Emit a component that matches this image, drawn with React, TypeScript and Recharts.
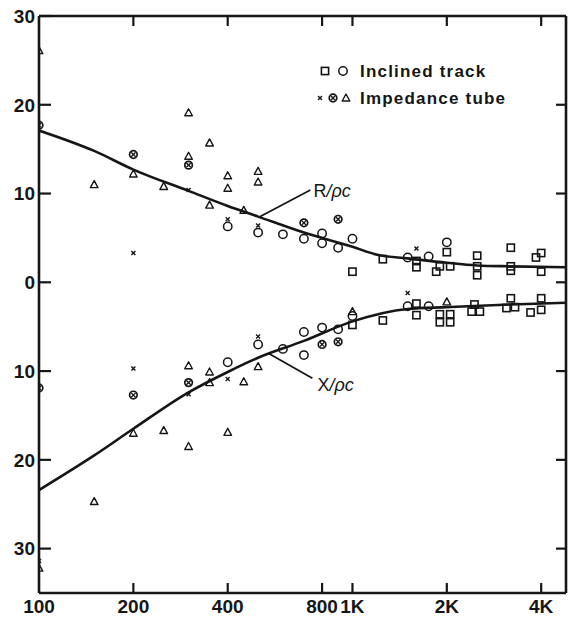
import React from 'react';
import {
  ComposedChart,
  Line,
  Scatter,
  XAxis,
  YAxis,
  Legend,
  ReferenceLine,
  ReferenceDot,
} from 'recharts';

// ---- axes -------------------------------------------------------------
const freqTicks = [100, 200, 400, 800, 1000, 2000, 4000];
const freqTickLabels = ['100', '200', '400', '800', '1K', '2K', '4K'];
const levelTicks = [30, 20, 10, 0, -10, -20, -30];
const freqDomain = [100, 4800];
const levelDomain = [-35, 30];

// ---- fitted curves (R/ρc above zero, X/ρc drawn below zero) -------------
const rCurve = [
  { f: 100, v: 17.1 },
  { f: 150, v: 14.8 },
  { f: 200, v: 12.7 },
  { f: 300, v: 10.3 },
  { f: 400, v: 8.6 },
  { f: 500, v: 7.4 },
  { f: 700, v: 5.6 },
  { f: 1000, v: 4.0 },
  { f: 1200, v: 3.1 },
  { f: 1500, v: 2.7 },
  { f: 2000, v: 2.2 },
  { f: 2500, v: 1.9 },
  { f: 3200, v: 1.8 },
  { f: 4800, v: 1.7 },
];

const xCurve = [
  { f: 100, v: -23.4 },
  { f: 150, v: -19.5 },
  { f: 200, v: -16.5 },
  { f: 300, v: -12.4 },
  { f: 400, v: -10.1 },
  { f: 500, v: -8.5 },
  { f: 700, v: -6.6 },
  { f: 1000, v: -4.4 },
  { f: 1500, v: -3.0 },
  { f: 2000, v: -2.8 },
  { f: 3200, v: -2.5 },
  { f: 4800, v: -2.3 },
];

// ---- inclined track measurements ----------------------------------------
const trackSquares = [
  { f: 1000, v: 1.2 }, { f: 1250, v: 2.6 }, { f: 1600, v: 2.4 }, { f: 1600, v: 1.7 },
  { f: 1850, v: 1.2 }, { f: 1900, v: 1.8 }, { f: 2000, v: 3.4 }, { f: 2050, v: 1.8 },
  { f: 2500, v: 3.0 }, { f: 2500, v: 1.8 }, { f: 2500, v: 0.8 }, { f: 3200, v: 3.9 },
  { f: 3200, v: 1.8 }, { f: 3200, v: 1.3 }, { f: 3850, v: 2.8 }, { f: 4000, v: 3.3 },
  { f: 4000, v: 1.2 },
  { f: 1000, v: -4.8 }, { f: 1250, v: -4.3 }, { f: 1600, v: -2.4 }, { f: 1600, v: -3.7 },
  { f: 1900, v: -3.6 }, { f: 2050, v: -3.6 }, { f: 1900, v: -4.5 }, { f: 2050, v: -4.5 },
  { f: 2400, v: -3.3 }, { f: 2550, v: -3.3 }, { f: 2450, v: -2.5 }, { f: 3200, v: -1.8 },
  { f: 3100, v: -2.9 }, { f: 3300, v: -2.8 }, { f: 4000, v: -1.8 }, { f: 3700, v: -3.4 },
  { f: 4000, v: -3.1 },
];

const trackCircles = [
  { f: 400, v: 6.3 }, { f: 500, v: 5.6 }, { f: 600, v: 5.4 }, { f: 700, v: 4.9 },
  { f: 800, v: 5.5 }, { f: 800, v: 4.4 }, { f: 900, v: 3.9 }, { f: 1000, v: 4.9 },
  { f: 1500, v: 2.8 }, { f: 1750, v: 2.9 }, { f: 2000, v: 4.5 },
  { f: 400, v: -9.0 }, { f: 500, v: -7.0 }, { f: 600, v: -7.5 }, { f: 700, v: -8.2 },
  { f: 700, v: -5.6 }, { f: 800, v: -5.1 }, { f: 900, v: -5.3 }, { f: 1000, v: -3.8 },
  { f: 1500, v: -2.7 }, { f: 1750, v: -2.7 },
];

// ---- impedance tube measurements ----------------------------------------
const tubeCrosses = [
  { f: 200, v: 3.3 }, { f: 300, v: 10.4 }, { f: 400, v: 7.1 }, { f: 500, v: 6.4 },
  { f: 1600, v: 3.8 },
  { f: 100, v: -31.4 }, { f: 200, v: -9.7 }, { f: 300, v: -12.6 }, { f: 400, v: -10.9 },
  { f: 500, v: -6.1 }, { f: 1500, v: -1.2 },
];

const tubeCircledCrosses = [
  { f: 100, v: 17.7 }, { f: 200, v: 14.4 }, { f: 300, v: 13.2 }, { f: 700, v: 6.7 },
  { f: 900, v: 7.1 },
  { f: 100, v: -11.9 }, { f: 200, v: -12.7 }, { f: 300, v: -11.3 }, { f: 800, v: -7.0 },
  { f: 900, v: -6.7 },
];

const tubeTriangles = [
  { f: 100, v: 26.1 }, { f: 150, v: 11.0 }, { f: 200, v: 12.2 }, { f: 250, v: 10.8 },
  { f: 300, v: 19.1 }, { f: 300, v: 14.2 }, { f: 350, v: 15.7 }, { f: 350, v: 8.7 },
  { f: 400, v: 12.0 }, { f: 400, v: 10.6 }, { f: 450, v: 8.1 }, { f: 500, v: 12.5 },
  { f: 500, v: 11.3 },
  { f: 100, v: -32.2 }, { f: 150, v: -24.7 }, { f: 200, v: -17.0 }, { f: 250, v: -16.7 },
  { f: 300, v: -18.5 }, { f: 300, v: -9.4 }, { f: 350, v: -10.1 }, { f: 350, v: -11.3 },
  { f: 400, v: -16.9 }, { f: 450, v: -11.2 }, { f: 500, v: -9.5 }, { f: 1000, v: -3.3 },
  { f: 2000, v: -2.2 },
];

// ---- curve annotations ----------------------------------------------------
const rLabel = { text: 'R', f: 751, v: 9.6 };
const rLeader = [{ x: 734, y: 10.4 }, { x: 501, y: 7.3 }];
const xLabel = { text: 'X', f: 773, v: -12.3 };
const xLeader = [{ x: 745, y: -10.8 }, { x: 539, y: -8.0 }];

const legendRows = ['Inclined track', 'Impedance tube'];

// ---- styling ---------------------------------------------------------------
const INK = '#161616';
const TICK_FONT = '"Liberation Sans", Arial, sans-serif';

const SquareMark = (p: any) => (
  <rect x={p.cx - 3.6} y={p.cy - 3.6} width={7.2} height={7.2} fill="none" stroke={INK} strokeWidth={1.6} />
);
const CircleMark = (p: any) => (
  <circle cx={p.cx} cy={p.cy} r={4.2} fill="none" stroke={INK} strokeWidth={1.5} />
);
const CrossMark = (p: any) => (
  <g stroke={INK} strokeWidth={1.4}>
    <line x1={p.cx - 2} y1={p.cy - 2} x2={p.cx + 2} y2={p.cy + 2} />
    <line x1={p.cx - 2} y1={p.cy + 2} x2={p.cx + 2} y2={p.cy - 2} />
  </g>
);
const CircledCrossMark = (p: any) => (
  <g stroke={INK}>
    <circle cx={p.cx} cy={p.cy} r={3.8} fill="none" strokeWidth={1.7} />
    <line x1={p.cx - 2.2} y1={p.cy - 2.2} x2={p.cx + 2.2} y2={p.cy + 2.2} strokeWidth={1.3} />
    <line x1={p.cx - 2.2} y1={p.cy + 2.2} x2={p.cx + 2.2} y2={p.cy - 2.2} strokeWidth={1.3} />
  </g>
);
const TriangleMark = (p: any) => (
  <path
    d={`M${p.cx},${p.cy - 4} L${p.cx + 3.8},${p.cy + 3} L${p.cx - 3.8},${p.cy + 3} Z`}
    fill="none"
    stroke={INK}
    strokeWidth={1.4}
    strokeLinejoin="round"
  />
);

// ---- axis ticks (drawn inward, labels outside) -------------------------
const BottomTick = (p: any) => {
  const { x, y, payload } = p;
  const idx = freqTicks.indexOf(payload.value);
  return (
    <g>
      {payload.value !== freqTicks[0] && (
        <line x1={x} y1={y} x2={x} y2={y - 10} stroke={INK} strokeWidth={2.2} />
      )}
      <text x={x} y={y + 20} textAnchor="middle" fontFamily={TICK_FONT} fontWeight={700} fontSize={19} fill={INK}>
        {freqTickLabels[idx]}
      </text>
    </g>
  );
};
const TopTick = (p: any) => {
  const { x, y, payload } = p;
  if (payload.value === freqTicks[0]) return <g />;
  return <line x1={x} y1={y} x2={x} y2={y + 10} stroke={INK} strokeWidth={2.2} />;
};
const LeftTick = (p: any) => {
  const { x, y, payload } = p;
  return (
    <g>
      <line x1={x} y1={y} x2={x + 12} y2={y} stroke={INK} strokeWidth={2.2} />
      <text x={x - 4} y={y} dy="0.36em" textAnchor="end" fontFamily={TICK_FONT} fontWeight={700} fontSize={19} fill={INK}>
        {Math.abs(payload.value)}
      </text>
    </g>
  );
};
const RightTick = (p: any) => {
  const { x, y, payload } = p;
  if (payload.value === levelTicks[0]) return <g />;
  return <line x1={x} y1={y} x2={x - 10} y2={y} stroke={INK} strokeWidth={2.2} />;
};

const curveLabel = (text: string) => (props: any) => {
  const vb = props.viewBox || {};
  const x = (vb.x ?? 0) + (vb.width ?? 0) / 2;
  const y = (vb.y ?? 0) + (vb.height ?? 0) / 2;
  return (
    <text x={x} y={y} fontFamily={TICK_FONT} fontSize={18} fill={INK}>
      {text}
      <tspan fontStyle="italic">/ρc</tspan>
    </text>
  );
};

const legendText = {
  fontFamily: TICK_FONT,
  fontWeight: 700,
  fontSize: 17,
  letterSpacing: 1.2,
  fill: INK,
} as const;

const LegendContent = () => (
  <svg width={250} height={50} style={{ display: 'block', overflow: 'visible' }}>
    <SquareMark cx={13} cy={11} />
    <CircleMark cx={31} cy={11} />
    <text x={48} y={17} {...legendText}>{legendRows[0]}</text>
    <CrossMark cx={8} cy={38} />
    <CircledCrossMark cx={21} cy={38} />
    <TriangleMark cx={34} cy={38} />
    <text x={48} y={44} {...legendText}>{legendRows[1]}</text>
  </svg>
);

export default function App() {
  return (
    <div style={{ position: 'absolute', left: 0, top: 0, background: '#fff' }}>
      <ComposedChart width={569} height={619} margin={{ top: 0, right: 0, bottom: 0, left: 0 }}>
        <XAxis
          xAxisId="b"
          dataKey="f"
          type="number"
          scale="log"
          domain={freqDomain}
          allowDataOverflow
          ticks={freqTicks}
          interval={0}
          height={26}
          tickSize={0}
          tickMargin={0}
          tickLine={false}
          tick={<BottomTick />}
          axisLine={{ stroke: INK, strokeWidth: 2.6 }}
        />
        <XAxis
          xAxisId="t"
          orientation="top"
          dataKey="f"
          type="number"
          scale="log"
          domain={freqDomain}
          allowDataOverflow
          ticks={freqTicks}
          interval={0}
          height={16}
          tickSize={0}
          tickMargin={0}
          tickLine={false}
          tick={<TopTick />}
          axisLine={{ stroke: INK, strokeWidth: 2.6 }}
        />
        <YAxis
          yAxisId="l"
          dataKey="v"
          type="number"
          domain={levelDomain}
          allowDataOverflow
          ticks={levelTicks}
          interval={0}
          width={39}
          tickSize={0}
          tickMargin={0}
          tickLine={false}
          tick={<LeftTick />}
          axisLine={{ stroke: INK, strokeWidth: 2.6 }}
        />
        <YAxis
          yAxisId="r"
          orientation="right"
          dataKey="v"
          type="number"
          domain={levelDomain}
          allowDataOverflow
          ticks={levelTicks}
          interval={0}
          width={3}
          tickSize={0}
          tickMargin={0}
          tickLine={false}
          tick={<RightTick />}
          axisLine={{ stroke: INK, strokeWidth: 2.6 }}
        />

        <Legend
          layout="horizontal"
          verticalAlign="middle"
          align="center"
          content={<LegendContent />}
          wrapperStyle={{ position: 'absolute', left: 312, top: 60, width: 250, height: 50 }}
        />

        <Line
          xAxisId="b"
          yAxisId="l"
          data={rCurve}
          dataKey="v"
          type="monotone"
          stroke={INK}
          strokeWidth={2.6}
          dot={false}
          activeDot={false}
          isAnimationActive={false}
        />
        <Line
          xAxisId="b"
          yAxisId="l"
          data={xCurve}
          dataKey="v"
          type="monotone"
          stroke={INK}
          strokeWidth={2.6}
          dot={false}
          activeDot={false}
          isAnimationActive={false}
        />

        <ReferenceLine xAxisId="b" yAxisId="l" segment={rLeader} stroke={INK} strokeWidth={1.8} />
        <ReferenceLine xAxisId="b" yAxisId="l" segment={xLeader} stroke={INK} strokeWidth={1.8} />
        <ReferenceDot
          xAxisId="b"
          yAxisId="l"
          x={rLabel.f}
          y={rLabel.v}
          r={0}
          fill="none"
          stroke="none"
          label={curveLabel(rLabel.text)}
        />
        <ReferenceDot
          xAxisId="b"
          yAxisId="l"
          x={xLabel.f}
          y={xLabel.v}
          r={0}
          fill="none"
          stroke="none"
          label={curveLabel(xLabel.text)}
        />

        <Scatter xAxisId="b" yAxisId="l" data={trackSquares} dataKey="v" shape={SquareMark} isAnimationActive={false} />
        <Scatter xAxisId="b" yAxisId="l" data={trackCircles} dataKey="v" shape={CircleMark} isAnimationActive={false} />
        <Scatter xAxisId="b" yAxisId="l" data={tubeCrosses} dataKey="v" shape={CrossMark} isAnimationActive={false} />
        <Scatter xAxisId="b" yAxisId="l" data={tubeCircledCrosses} dataKey="v" shape={CircledCrossMark} isAnimationActive={false} />
        <Scatter xAxisId="b" yAxisId="l" data={tubeTriangles} dataKey="v" shape={TriangleMark} isAnimationActive={false} />
      </ComposedChart>
    </div>
  );
}
